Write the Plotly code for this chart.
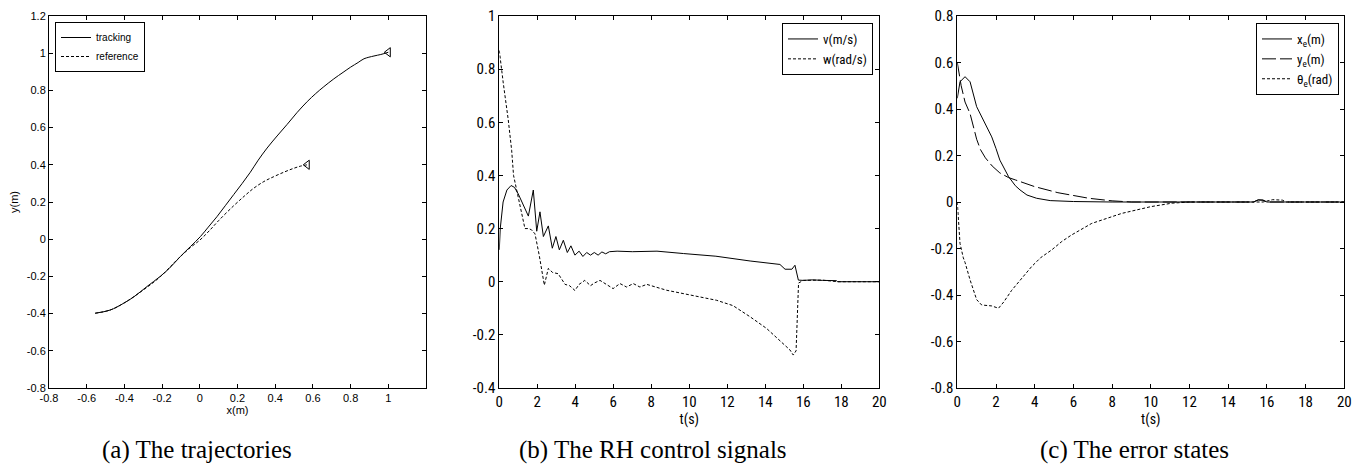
import plotly.graph_objects as go

# ---------------- Data ----------------
# (a) trajectories
track_x = [-0.555, -0.476, -0.405, -0.35, -0.281, -0.21, -0.16, -0.104, -0.05, 0.003, 0.045, 0.091, 0.135, 0.18,
           0.225, 0.268, 0.31, 0.357, 0.41, 0.463, 0.515, 0.57, 0.615, 0.658, 0.711, 0.76, 0.8, 0.84, 0.871,
           0.924, 0.96, 1.0]
track_y = [-0.398, -0.381, -0.345, -0.31, -0.255, -0.2, -0.155, -0.094, -0.04, 0.014, 0.065, 0.121, 0.18, 0.24,
           0.3, 0.36, 0.425, 0.49, 0.555, 0.617, 0.68, 0.74, 0.783, 0.82, 0.862, 0.897, 0.925, 0.95, 0.97,
           0.985, 0.993, 1.005]
ref_x = [-0.555, -0.476, -0.405, -0.3, -0.21, -0.12, -0.05, 0.0, 0.05, 0.1, 0.18, 0.24, 0.286, 0.34, 0.392,
         0.45, 0.498, 0.535, 0.57]
ref_y = [-0.398, -0.381, -0.345, -0.273, -0.202, -0.11, -0.045, -0.005, 0.045, 0.1, 0.18, 0.235, 0.274, 0.31,
         0.336, 0.362, 0.381, 0.393, 0.4]
end_x = [1.0, 0.57]
end_y = [1.005, 0.4]

# (b) RH control signals
v_t = [0, 0.05, 0.2, 0.4, 0.62, 0.8, 1.0, 1.2, 1.53, 1.79, 1.97, 2.14, 2.32, 2.58, 2.79, 2.98, 3.16, 3.37,
       3.58, 3.77, 3.98, 4.2, 4.4, 4.6, 4.8, 5.0, 5.2, 5.4, 5.6, 5.8, 6.2, 7.0, 8.3, 9.7, 11.4, 13.2, 14.77,
       15.04, 15.4, 15.56, 15.74, 16.0, 16.5, 17.0, 17.75, 17.8, 20]
v = [0.12, 0.2, 0.3, 0.345, 0.362, 0.355, 0.33, 0.3, 0.247, 0.345, 0.19, 0.263, 0.17, 0.21, 0.126, 0.17, 0.12,
     0.156, 0.11, 0.135, 0.1, 0.115, 0.095, 0.11, 0.1, 0.11, 0.1, 0.112, 0.105, 0.113, 0.115, 0.113, 0.115,
     0.106, 0.096, 0.078, 0.065, 0.047, 0.047, 0.062, 0.006, 0.005, 0.007, 0.005, 0.004, 0.0, 0.0]
w_t = [0, 0.1, 0.21, 0.47, 0.65, 0.75, 1.0, 1.35, 1.55, 1.7, 1.88, 2.1, 2.37, 2.58, 2.8, 3.1, 3.46, 3.7, 3.98,
       4.2, 4.5, 4.8, 5.0, 5.3, 5.99, 6.35, 6.7, 7.05, 7.4, 7.76, 8.8, 9.68, 10.56, 11.44, 12.3, 13.2, 14.07,
       14.6, 15.3, 15.47, 15.62, 15.75, 16.0, 17.0, 17.5, 17.8, 20]
w = [0.87, 0.82, 0.747, 0.61, 0.495, 0.40, 0.32, 0.2, 0.2, 0.195, 0.18, 0.1, -0.013, 0.05, 0.035, 0.03, -0.01,
     -0.015, -0.033, -0.01, 0.005, -0.015, -0.005, 0.005, -0.026, -0.007, -0.02, -0.007, -0.02, -0.01, -0.032,
     -0.045, -0.058, -0.07, -0.09, -0.132, -0.176, -0.21, -0.257, -0.276, -0.26, -0.005, 0.005, 0.006, 0.004,
     0.0, 0.0]

# (c) error states
xe_t = [0, 0.14, 0.4, 0.66, 1.0, 1.34, 1.78, 2.0, 2.2, 2.65, 3.0, 3.24, 3.6, 4.1, 4.8, 6, 8, 15.3, 15.55,
        15.8, 16.0, 20]
xe = [0.446, 0.517, 0.539, 0.517, 0.41, 0.353, 0.28, 0.23, 0.18, 0.109, 0.07, 0.052, 0.03, 0.016, 0.006, 0.002,
      0.0, 0.0, 0.009, 0.008, 0.0, 0.0]
ye_t = [0, 0.2, 0.4, 0.66, 1.0, 1.2, 1.45, 1.8, 2.2, 2.65, 3.0, 4.0, 5.2, 6.0, 6.8, 8.0, 9.0, 15.3, 15.55,
        15.8, 16.0, 20]
ye = [0.6, 0.5, 0.43, 0.38, 0.27, 0.225, 0.19, 0.155, 0.125, 0.105, 0.095, 0.066, 0.04, 0.028, 0.016, 0.005,
      0.0, 0.0, 0.009, 0.008, 0.0, 0.0]
th_t = [0, 0.05, 0.14, 0.31, 0.4, 0.66, 1.0, 1.26, 1.5, 1.78, 2.13, 2.4, 2.81, 3.3, 3.84, 4.3, 4.88, 5.4, 5.9,
        6.95, 8.5, 10.0, 11.1, 12, 15.8, 16.3, 16.8, 17.0, 20]
th = [0.0, -0.06, -0.178, -0.24, -0.26, -0.335, -0.42, -0.443, -0.445, -0.447, -0.457, -0.43, -0.38, -0.33,
      -0.278, -0.24, -0.206, -0.17, -0.142, -0.092, -0.049, -0.02, -0.005, 0.0, 0.0, 0.01, 0.008, 0.0, 0.0]

# tick labels
a_ticks_x = [-0.8, -0.6, -0.4, -0.2, 0, 0.2, 0.4, 0.6, 0.8, 1]
a_ticks_y = [-0.8, -0.6, -0.4, -0.2, 0, 0.2, 0.4, 0.6, 0.8, 1, 1.2]
b_ticks_y = [-0.4, -0.2, 0, 0.2, 0.4, 0.6, 0.8, 1]
c_ticks_y = [-0.8, -0.6, -0.4, -0.2, 0, 0.2, 0.4, 0.6, 0.8]
t_ticks = list(range(0, 21, 2))

captions = ["(a) The trajectories", "(b) The RH control signals", "(c) The error states"]

# ---------------- Figure ----------------
W, H = 1364, 465
SANS = "Liberation Sans, Arial, sans-serif"
NARROW = "Liberation Sans Narrow, Arial Narrow, Roboto Condensed, DejaVu Sans Condensed, Liberation Sans, sans-serif"
SERIF = "Liberation Serif, Times New Roman, serif"
blk = "black"

fig = go.Figure()
line1 = dict(color=blk, width=1)

# panel a
fig.add_trace(go.Scatter(x=track_x, y=track_y, mode="lines", name="tracking", line=line1,
                         line_shape="spline", xaxis="x", yaxis="y", legend="legend"))
fig.add_trace(go.Scatter(x=ref_x, y=ref_y, mode="lines", name="reference", line_shape="spline",
                         line=dict(color=blk, width=1, dash="3px,2px"), xaxis="x", yaxis="y", legend="legend"))
fig.add_trace(go.Scatter(x=end_x, y=end_y, mode="markers", showlegend=False,
                         marker=dict(symbol="triangle-left-open", size=8, color=blk, line=dict(width=1, color=blk)),
                         xaxis="x", yaxis="y"))
# panel b
fig.add_trace(go.Scatter(x=v_t, y=v, mode="lines", name="v(m/s)", line=line1,
                         xaxis="x2", yaxis="y2", legend="legend2"))
fig.add_trace(go.Scatter(x=w_t, y=w, mode="lines", name="w(rad/s)",
                         line=dict(color=blk, width=1, dash="3px,2px"), xaxis="x2", yaxis="y2", legend="legend2"))
# panel c
fig.add_trace(go.Scatter(x=xe_t, y=xe, mode="lines", name="x<sub>e</sub>(m)", line=line1,
                         xaxis="x3", yaxis="y3", legend="legend3"))
fig.add_trace(go.Scatter(x=ye_t, y=ye, mode="lines", name="y<sub>e</sub>(m)",
                         line=dict(color=blk, width=1, dash="14px,4px"), xaxis="x3", yaxis="y3", legend="legend3"))
fig.add_trace(go.Scatter(x=th_t, y=th, mode="lines", name="θ<sub>e</sub>(rad)",
                         line=dict(color=blk, width=1, dash="3px,2px"), xaxis="x3", yaxis="y3", legend="legend3"))

top = 1 - 16 / H
bot = 1 - 388 / H


def ax(domain, rng, ticks, font, anchor, title=None, tfont=None, standoff=4):
    d = dict(domain=domain, range=rng, tickvals=ticks, ticktext=[("%g" % t) for t in ticks],
             showline=True, linecolor=blk, linewidth=1, mirror="ticks", ticks="inside", ticklen=4,
             tickcolor=blk, showgrid=False, zeroline=False, tickfont=dict(family=font[0], size=font[1], color=blk),
             anchor=anchor, automargin=False)
    if title:
        d["title"] = dict(text=title, font=dict(family=tfont[0], size=tfont[1], color=blk), standoff=standoff)
    return d


fig.update_layout(
    width=W, height=H, margin=dict(l=0, r=0, t=0, b=0),
    paper_bgcolor="white", plot_bgcolor="white",
    xaxis=ax([49 / W, 426 / W], [-0.8, 1.2], a_ticks_x, (SANS, 11), "y", "x(m)", (SANS, 11), 3),
    yaxis=ax([bot, top], [-0.8, 1.2], a_ticks_y, (SANS, 11), "x", "y(m)", (SANS, 11), 5),
    xaxis2=ax([499.3 / W, 879.3 / W], [0, 20], t_ticks, (NARROW, 15), "y2", "t(s)", (NARROW, 14), 4),
    yaxis2=ax([bot, top], [-0.4, 1], b_ticks_y, (NARROW, 15), "x2"),
    xaxis3=ax([957.3 / W, 1344.3 / W], [0, 20], t_ticks, (NARROW, 15), "y3", "t(s)", (NARROW, 14), 4),
    yaxis3=ax([bot, top], [-0.8, 0.8], c_ticks_y, (NARROW, 15), "x3"),
    legend=dict(x=55 / W, y=1 - 22 / H, xanchor="left", yanchor="top", bgcolor="white",
                bordercolor=blk, borderwidth=1, font=dict(family=SANS, size=10, color=blk),
                itemwidth=30, tracegroupgap=0),
    legend2=dict(x=873 / W, y=1 - 23 / H, xanchor="right", yanchor="top", bgcolor="white",
                 bordercolor=blk, borderwidth=1, font=dict(family=NARROW, size=13, color=blk),
                 itemwidth=30, tracegroupgap=0),
    legend3=dict(x=1339 / W, y=1 - 23 / H, xanchor="right", yanchor="top", bgcolor="white",
                 bordercolor=blk, borderwidth=1, font=dict(family=NARROW, size=13, color=blk),
                 itemwidth=30, tracegroupgap=0),
    showlegend=True,
)

cap_x = [196.5 / W, 653 / W, 1134 / W]
for cx, txt in zip(cap_x, captions):
    fig.add_annotation(x=cx, y=1 - 450 / H, xref="paper", yref="paper", text=txt, showarrow=False,
                       xanchor="center", yanchor="middle",
                       font=dict(family=SERIF, size=25, color=blk))

fig.write_html("out.html", config={"displayModeBar": False},
               post_script="document.body.style.margin='0';document.body.style.overflow='hidden';")
